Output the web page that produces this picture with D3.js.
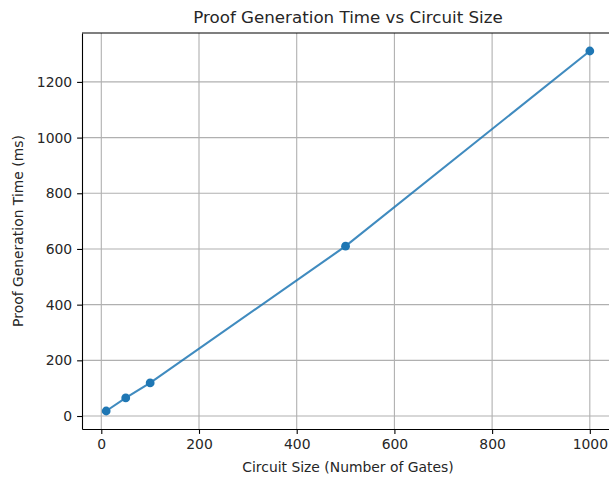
<!DOCTYPE html>
<meta charset="utf-8" />
<script src="https://d3js.org/d3.v7.min.js"></script>
<style>
    body { margin: 0; background: #fff; }
    text { font-family: 'DejaVu Sans', sans-serif; fill: #262626; }
</style>
<div id="my_dataviz"></div>

<script>
    // data
    const gates = [10, 50, 100, 500, 1000]
    const timeMs = [18, 65, 119, 610, 1311]
    const xTicks = [0, 200, 400, 600, 800, 1000]
    const yTicks = [0, 200, 400, 600, 800, 1000, 1200]

    const margin = { top: 33, right: -5, bottom: 50, left: 82 },
        width = 609 - margin.left - margin.right,
        height = 479 - margin.top - margin.bottom

    const svg = d3
        .select('#my_dataviz')
        .append('svg')
        .attr('width', 609)
        .attr('height', 479)

    const g = svg.append('g')
        .attr('transform', `translate(${margin.left},${margin.top})`)

    // matplotlib-like 5% padding
    const xr = d3.extent(gates), yr = d3.extent(timeMs)
    const xpad = (xr[1] - xr[0]) * 0.05, ypad = (yr[1] - yr[0]) * 0.05
    const x = d3.scaleLinear().domain([xr[0] - xpad, xr[1] + xpad]).range([0, width])
    const y = d3.scaleLinear().domain([yr[0] - ypad, yr[1] + ypad]).range([height, 0])

    // grid
    g.selectAll('.vgrid').data(xTicks).join('line')
        .attr('x1', d => x(d)).attr('x2', d => x(d))
        .attr('y1', 0).attr('y2', height)
        .attr('stroke', '#b0b0b0').attr('stroke-width', 1.1)
    g.selectAll('.hgrid').data(yTicks).join('line')
        .attr('x1', 0).attr('x2', width)
        .attr('y1', d => y(d)).attr('y2', d => y(d))
        .attr('stroke', '#b0b0b0').attr('stroke-width', 1.1)

    // axes
    const fmt = d3.format('d')
    const xAxis = g.append('g')
        .attr('transform', `translate(0,${height})`)
        .call(d3.axisBottom(x).tickValues(xTicks).tickFormat(fmt).tickSize(4.9).tickPadding(4.9).tickSizeOuter(0))
    const yAxis = g.append('g')
        .call(d3.axisLeft(y).tickValues(yTicks).tickFormat(fmt).tickSize(4.9).tickPadding(4.9).tickSizeOuter(0))
    ;[xAxis, yAxis].forEach(a => {
        a.select('.domain').attr('stroke', '#000').attr('stroke-width', 1.1)
        a.selectAll('.tick line').attr('stroke', '#000').attr('stroke-width', 1.1)
        a.selectAll('.tick text').attr('font-size', '13.9px').attr('fill', '#262626')
            .attr('font-family', 'DejaVu Sans')
    })
    // top spine
    g.append('line').attr('x1', 0).attr('x2', width).attr('y1', 0).attr('y2', 0)
        .attr('stroke', '#000').attr('stroke-width', 1.1)

    // line + markers
    const pts = gates.map((d, i) => [d, timeMs[i]])
    g.append('path')
        .datum(pts)
        .attr('fill', 'none')
        .attr('stroke', '#1f77b4')
        .attr('stroke-opacity', 0.85)
        .attr('stroke-width', 2.1)
        .attr('d', d3.line().x(d => x(d[0])).y(d => y(d[1])))
    g.selectAll('.pt').data(pts).join('circle')
        .attr('cx', d => x(d[0]))
        .attr('cy', d => y(d[1]))
        .attr('r', 4.4)
        .attr('fill', '#1f77b4')

    // title and labels
    svg.append('text')
        .attr('x', margin.left + width / 2)
        .attr('y', 23)
        .attr('text-anchor', 'middle')
        .attr('font-size', '16.7px')
        .text('Proof Generation Time vs Circuit Size')
    svg.append('text')
        .attr('x', margin.left + width / 2)
        .attr('y', 472)
        .attr('text-anchor', 'middle')
        .attr('font-size', '13.9px')
        .text('Circuit Size (Number of Gates)')
    svg.append('text')
        .attr('transform', `translate(23,${margin.top + height / 2}) rotate(-90)`)
        .attr('text-anchor', 'middle')
        .attr('font-size', '13.9px')
        .text('Proof Generation Time (ms)')
</script>
